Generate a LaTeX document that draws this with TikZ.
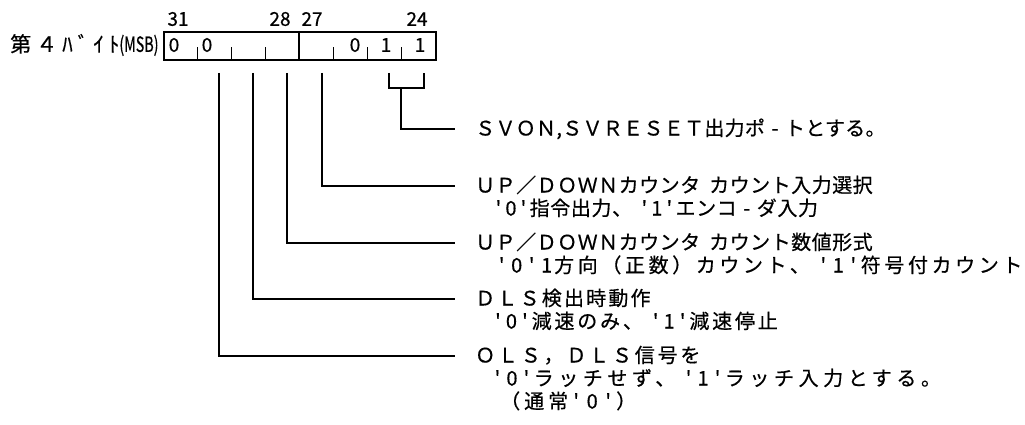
\documentclass[tikz,border=0pt]{standalone}
\usepackage{fontspec}
\usepackage{graphicx}
\newfontfamily\jp[FakeBold=0.5]{Noto Sans CJK JP}
\newfontfamily\jphd[LetterSpace=24,FakeBold=0.5]{Noto Sans CJK JP}
\newcommand\hwd{13pt}
\newcommand\ap{\hbox to \hwd{\hss'\hss}}
\newcommand\dg[1]{\hbox to \hwd{\hss#1\hss}}
\newcommand\hy{\hbox to 20pt{\hss-\hss}}
\newcommand\spc{\hspace{6pt}}
\tikzset{
  txt/.style={font=\jp\fontsize{20pt}{20pt}\selectfont\addfontfeature{LetterSpace=#1}, anchor=west, inner sep=0pt, text height=16pt, text depth=3pt},
  lbl/.style={font=\jp\fontsize{19pt}{19pt}\selectfont, inner sep=0pt},
  hdr/.style={font=\jphd\fontsize{21pt}{21pt}\selectfont, inner sep=0pt, anchor=west},
  conn/.style={line width=2pt, shorten >=20pt},
  tick/.style={line width=1pt},
}
\begin{document}
\begin{tikzpicture}[x=1pt,y=-1pt]
\useasboundingbox (0,0) rectangle (1025,425);
% register box
\node[draw, line width=2pt, minimum width=272pt, minimum height=28pt, inner sep=0pt, anchor=north west] (reg) at (163,31) {};
\draw[line width=2pt] (reg.north west) ++(136,0) -- ++(0,28);
\foreach \x in {197,231,265,333,367,401} \draw[tick] (\x,59) -- (\x,47);
% header
\node[hdr] (hdr) at (10,45) {第４ﾊﾞｲﾄ{\jp\scalebox{0.68}[1]{(MSB)}}};
\node[lbl] (n31) at (178,19) {31};
\node[lbl] (n28) at (280,19) {28};
\node[lbl] (n27) at (312,19) {27};
\node[lbl] (n24) at (417,19) {24};
% bit values
\node[lbl] (v31) at (174,45) {0};
\node[lbl] (v30) at (207,45) {0};
\node[lbl] (v26) at (355,45) {0};
\node[lbl] (v25) at (386,45) {1};
\node[lbl] (v24) at (420,45) {1};
% texts
\node[txt=1.5] (t1) at (475,129) {ＳＶＯＮ,ＳＶＲＥＳＥＴ出力ポ\hy トとする。};
\node[txt=2.5] (t2) at (475,186) {ＵＰ／ＤＯＷＮカウンタ\hspace{9pt}カウント入力選択};
\node[txt=3] (t2b) at (492,209) {\def\hwd{12.5pt}\ap\dg0\ap 指令出力、\spc\ap\dg1\ap エンコ\hy ダ入力};
\node[txt=2.5] (t3) at (475,243) {ＵＰ／ＤＯＷＮカウンタ\hspace{9pt}カウント数値形式};
\node[txt=18] (t3b) at (494,266) {\def\hwd{15pt}\ap\dg0\ap\dg1方向（正数）カウント、\spc\ap\dg1\ap 符号付カウント};
\node[txt=11] (t4) at (475,299) {ＤＬＳ検出時動作};
\node[txt=14] (t4b) at (491,322) {\def\hwd{13.5pt}\ap\dg0\ap 減速のみ、\spc\ap\dg1\ap 減速停止};
\node[txt=14] (t5) at (475,356) {ＯＬＳ，ＤＬＳ信号を};
\node[txt=23] (t5b) at (490,379) {\def\hwd{14.5pt}\ap\dg0\ap ラッチせず、\spc\ap\dg1\ap ラッチ入力とする。};
\node[txt=20] (t5c) at (500,402) {\def\hwd{16pt}（通常\ap\dg0\ap）};
% connectors
\coordinate (c30) at (219,73);
\coordinate (c29) at (253,73);
\coordinate (c28) at (287,73);
\coordinate (c27) at (322,73);
\coordinate (k25) at (389,73);
\coordinate (k24) at (424,73);
\coordinate (kst) at (401,88);
\draw[line width=2pt] (k25) |- (kst) -| (k24);
\draw[conn] (kst) |- (t1.west);
\draw[conn] (c27) |- (t2.west);
\draw[conn] (c28) |- (t3.west);
\draw[conn] (c29) |- (t4.west);
\draw[conn] (c30) |- (t5.west);
\end{tikzpicture}
\end{document}
